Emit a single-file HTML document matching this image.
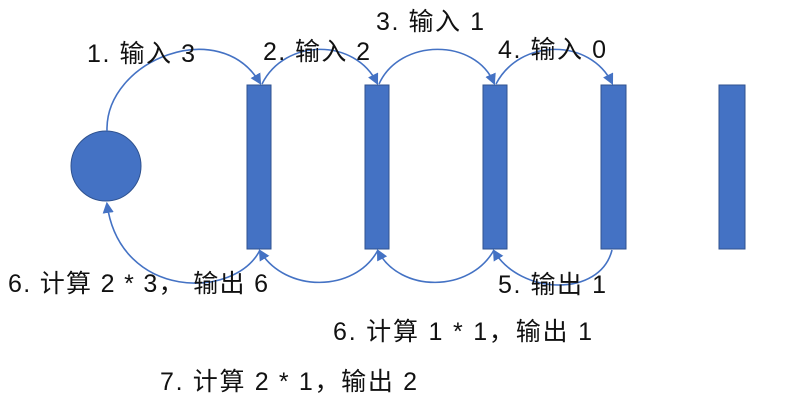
<!DOCTYPE html>
<html><head><meta charset="utf-8"><style>
html,body{margin:0;padding:0;background:#fff;width:792px;height:412px;overflow:hidden}
svg text{font-family:"Liberation Sans","Noto Sans CJK SC",sans-serif;font-size:25px;fill:#111}
</style></head><body>
<svg width="792" height="412" viewBox="0 0 792 412" xmlns="http://www.w3.org/2000/svg">
<defs><marker id="a" viewBox="0 0 10 10" refX="8" refY="5" markerWidth="7" markerHeight="7" orient="auto"><path d="M0,0 L10,5 L0,10 z" fill="#4472c4"/></marker></defs>
<g fill="#4472c4" stroke="#2f528f" stroke-width="1">
<circle cx="106" cy="166" r="35"/>
<rect x="247" y="85" width="24" height="164"/>
<rect x="365" y="85" width="24" height="164"/>
<rect x="483" y="85" width="24" height="164"/>
<rect x="601" y="85" width="25" height="164"/>
<rect x="719" y="85" width="26" height="164"/>
</g>
<g fill="none" stroke="#4472c4" stroke-width="1.6" marker-end="url(#a)">
<path d="M107,131 C105,60 220,15 260,83"/>
<path d="M262,84 C285,38 355,38 377,83"/>
<path d="M379,84 C400,38 475,38 494,83"/>
<path d="M496,84 C520,38 590,38 612,83"/>
<path d="M612,250 C600,298 520,295 494,251"/>
<path d="M494,250 C470,293 400,293 378,251"/>
<path d="M378,250 C355,293 285,293 260,251"/>
<path d="M260,250 C235,300 120,300 107,204"/>
</g>
<text x="87" y="62" textLength="108" lengthAdjust="spacing">1. 输入 3</text>
<text x="263" y="60" textLength="107" lengthAdjust="spacing">2. 输入 2</text>
<text x="376" y="30" textLength="108" lengthAdjust="spacing">3. 输入 1</text>
<text x="498" y="58" textLength="108" lengthAdjust="spacing">4. 输入 0</text>
<text x="8" y="292" textLength="260" lengthAdjust="spacing">6. 计算 2 * 3， 输出 6</text>
<text x="498" y="293" textLength="108" lengthAdjust="spacing">5. 输出 1</text>
<text x="333" y="340" textLength="259" lengthAdjust="spacing">6. 计算 1 * 1，输出 1</text>
<text x="160" y="390" textLength="257" lengthAdjust="spacing">7. 计算 2 * 1，输出 2</text>
</svg>
</body></html>
